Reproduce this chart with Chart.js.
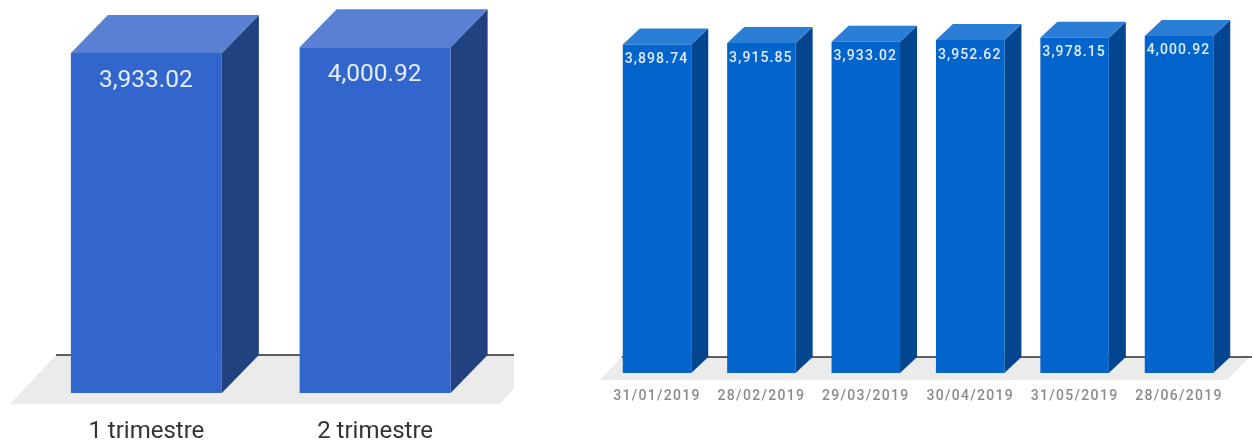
<!DOCTYPE html>
<html>
<head>
<meta charset="utf-8">
<script src="https://cdn.jsdelivr.net/npm/chart.js@4"></script>
<style>
  html, body { margin: 0; background: #fff; overflow: hidden; }
  .box { position: absolute; top: 0; height: 444px; }
  #boxLeft { left: 0; width: 514px; }
  #boxRight { left: 600px; width: 652px; }
</style>
</head>
<body>
<div class="box" id="boxLeft"><canvas id="quarterChart"></canvas></div>
<div class="box" id="boxRight"><canvas id="monthChart"></canvas></div>
<script>
var quarterLabels = ["1 trimestre", "2 trimestre"];
var quarterValues = [3933.02, 4000.92];
var monthLabels = ["31/01/2019", "28/02/2019", "29/03/2019", "30/04/2019", "31/05/2019", "28/06/2019"];
var monthValues = [3898.74, 3915.85, 3933.02, 3952.62, 3978.15, 4000.92];

function fmt(v) {
  return v.toLocaleString("en-US", {minimumFractionDigits: 2, maximumFractionDigits: 2});
}

// draws the floor, axis line, side and top faces around the library's bars
var boxPlugin = {
  id: "box3d",
  beforeDraw: function(chart, args, o) {
    chart.ctx.letterSpacing = o.spacing;
  },
  beforeDatasetsDraw: function(chart, args, o) {
    var ctx = chart.ctx;
    var a = chart.chartArea;
    var lineY = a.bottom - o.dy;
    ctx.save();
    ctx.fillStyle = "#ebebeb";
    ctx.beginPath();
    ctx.moveTo(a.left + o.floorLeft, lineY);
    ctx.lineTo(a.left + o.floorLeft - o.floorDx, a.bottom + o.floorDrop);
    ctx.lineTo(a.right + o.floorRight - o.floorDx, a.bottom + o.floorDrop);
    ctx.lineTo(a.right + o.floorRight, lineY);
    ctx.closePath();
    ctx.fill();
    ctx.strokeStyle = "#2b2b2b";
    ctx.lineWidth = 1.5;
    ctx.beginPath();
    ctx.moveTo(a.left + o.floorLeft, lineY);
    ctx.lineTo(chart.width, lineY);
    ctx.stroke();

    chart.getDatasetMeta(0).data.forEach(function(bar) {
      var l = bar.x - bar.width / 2;
      var r = bar.x + bar.width / 2;
      ctx.fillStyle = o.side;
      ctx.beginPath();
      ctx.moveTo(r, bar.y);
      ctx.lineTo(r + o.dx, bar.y - o.dy);
      ctx.lineTo(r + o.dx, bar.base - o.dy);
      ctx.lineTo(r, bar.base);
      ctx.closePath();
      ctx.fill();
      ctx.fillStyle = o.top;
      ctx.beginPath();
      ctx.moveTo(l, bar.y);
      ctx.lineTo(l + o.dx, bar.y - o.dy);
      ctx.lineTo(r + o.dx, bar.y - o.dy);
      ctx.lineTo(r, bar.y);
      ctx.closePath();
      ctx.fill();
    });
    ctx.restore();
  },
  afterDatasetsDraw: function(chart, args, o) {
    var ctx = chart.ctx;
    var values = chart.data.datasets[0].data;
    ctx.save();
    ctx.font = o.labelFont;
    ctx.letterSpacing = o.labelSpacing;
    ctx.fillStyle = o.labelColor;
    ctx.textAlign = "center";
    ctx.textBaseline = "middle";
    chart.getDatasetMeta(0).data.forEach(function(bar, i) {
      ctx.fillText(fmt(values[i]), bar.x - 0.5, bar.y + o.labelOffset);
    });
    ctx.restore();
  }
};

// id is the canvas id, s holds the look of that chart
function addBarChart(id, labels, values, s) {
  var elem = document.getElementById(id);
  return new Chart(elem, {
    type: "bar",
    plugins: [boxPlugin],
    data: {
      labels: labels,
      datasets: [{
        data: values,
        backgroundColor: s.front,
        barPercentage: s.barPct,
        categoryPercentage: 1
      }]
    },
    options: {
      responsive: true,
      maintainAspectRatio: false,
      animation: false,
      events: [],
      layout: {padding: s.padding},
      plugins: {
        legend: {display: false},
        title: {display: false},
        tooltip: {enabled: false},
        box3d: s.box
      },
      scales: {
        y: {display: false, min: 0, max: s.yMax},
        x: {
          grid: {display: false},
          border: {display: false},
          afterFit: function(scale) { scale.height = s.axisHeight; },
          ticks: {
            color: s.tickColor,
            font: s.tickFont,
            padding: s.tickPad,
            maxRotation: 0,
            autoSkip: false
          }
        }
      }
    }
  });
}

addBarChart("quarterChart", quarterLabels, quarterValues, {
  front: "#3366cc",
  barPct: 0.66,
  yMax: 4500,
  padding: {left: 32, right: 24.5, top: 4, bottom: 0},
  axisHeight: 51,
  tickColor: "#333333",
  tickFont: {family: "Roboto", size: 24},
  tickPad: 17,
  box: {
    spacing: "0px", side: "#22417f", top: "#5a80d3", dx: 37, dy: 38,
    floorLeft: 24, floorRight: 56, floorDx: 46, floorDrop: 11,
    labelFont: "24.5px Roboto", labelSpacing: "0px", labelColor: "#e6edfb", labelOffset: 28
  }
});

addBarChart("monthChart", monthLabels, monthValues, {
  front: "#0364cc",
  barPct: 0.656,
  yMax: 4380,
  padding: {left: 4.8, right: 20.8, top: 4, bottom: 0},
  axisHeight: 71,
  tickColor: "#8a8a8a",
  tickFont: {family: "Roboto", size: 14, weight: "500"},
  tickPad: 7,
  box: {
    spacing: "1.3px", side: "#03468f", top: "#2b7ed6", dx: 17, dy: 16,
    floorLeft: 17, floorRight: 18, floorDx: 22, floorDrop: 7,
    labelFont: "500 14px Roboto", labelSpacing: "1.1px", labelColor: "#e0ecfa", labelOffset: 15
  }
});
</script>
</body>
</html>
